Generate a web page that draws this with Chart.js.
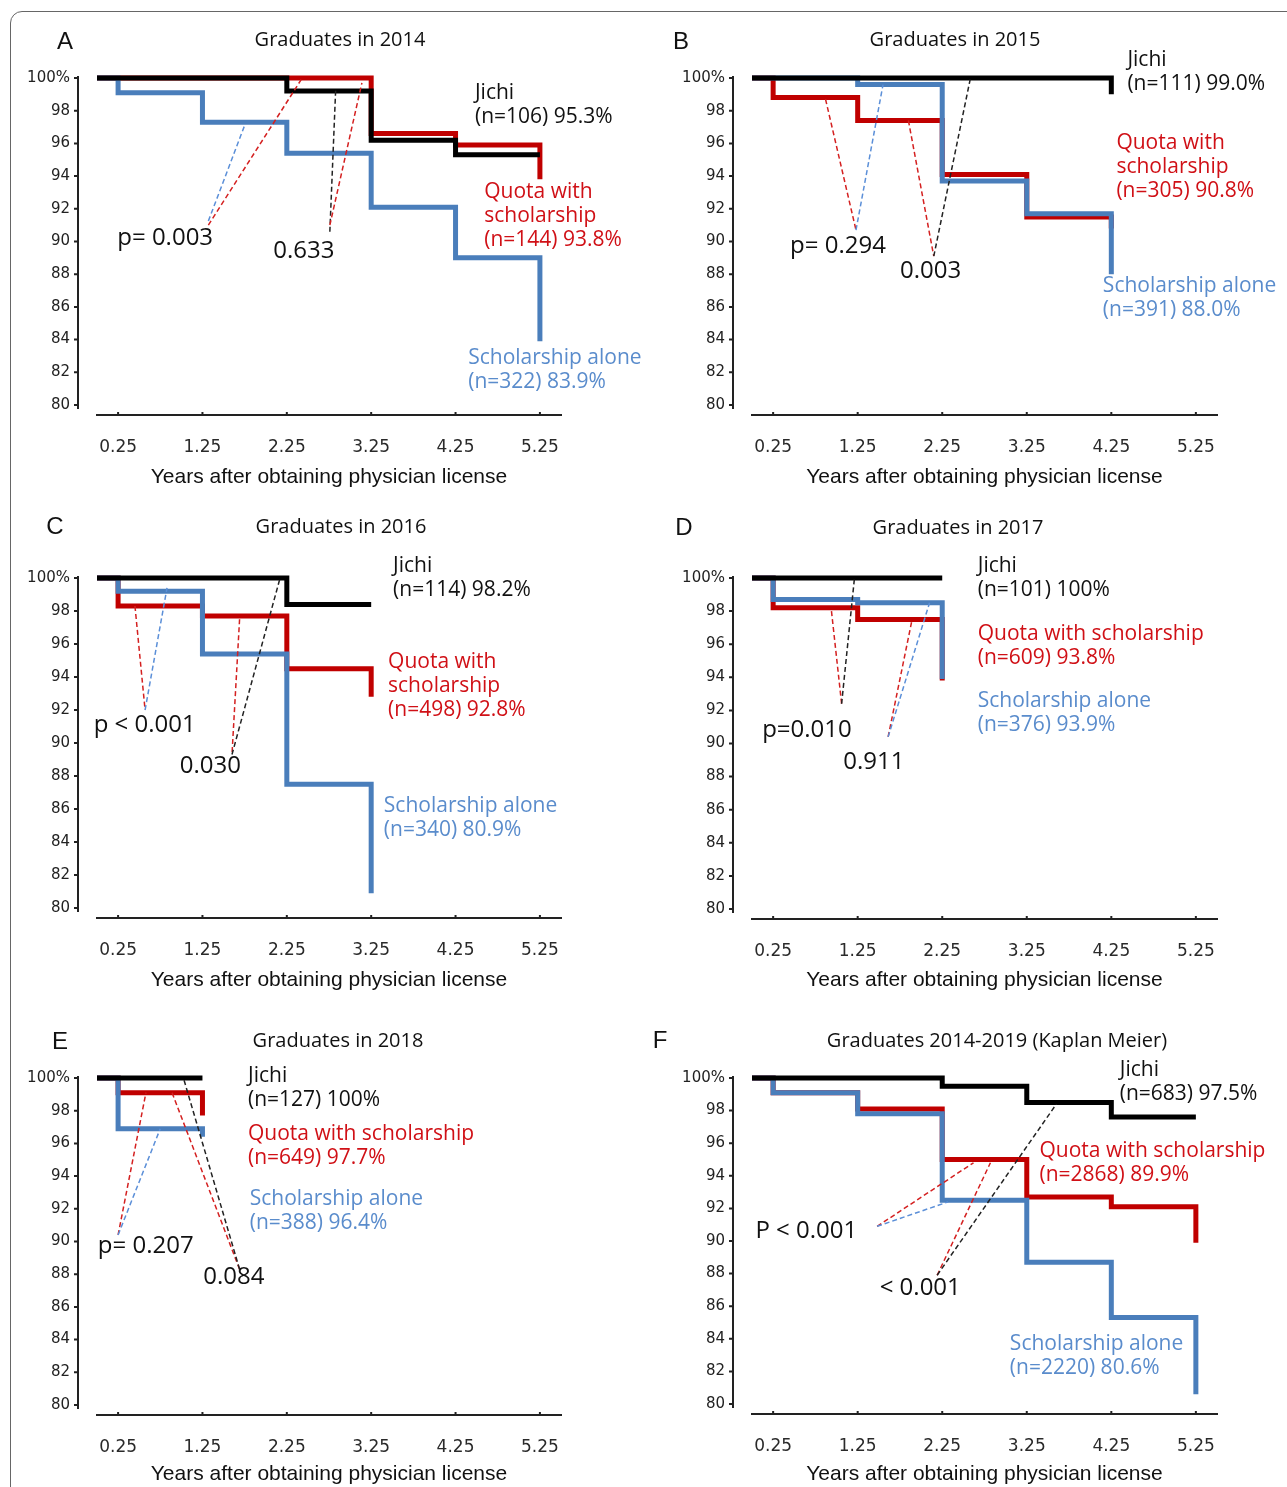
<!DOCTYPE html>
<html>
<head>
<meta charset="utf-8">
<script src="https://cdn.jsdelivr.net/npm/chart.js@4.4.1/dist/chart.umd.min.js"></script>
<style>
  html, body { margin: 0; padding: 0; background: #fff; }
  body { width: 1287px; height: 1487px; position: relative; overflow: hidden; }
  .frame { position: absolute; left: 10px; top: 11px; width: 1320px; height: 1520px;
           border: 1.5px solid #666; border-radius: 12px; box-sizing: border-box; }
  canvas { position: absolute; }
</style>
</head>
<body>
<div class="frame"></div>
<canvas id="pA"></canvas>
<canvas id="pB"></canvas>
<canvas id="pC"></canvas>
<canvas id="pD"></canvas>
<canvas id="pE"></canvas>
<canvas id="pF"></canvas>
<script>
// ---------- data ----------
const X_TICKS = [0.25, 1.25, 2.25, 3.25, 4.25, 5.25];
const Y_TICKS = [80, 82, 84, 86, 88, 90, 92, 94, 96, 98, 100];
const X_TITLE = "Years after obtaining physician license";

// [years, % remaining] at each step
const jichi2014 = [[0, 100], [2.25, 99.2], [3.25, 96.2], [4.25, 95.3], [5.25, 95.3]];
const quota2014 = [[0, 100], [3.25, 96.6], [4.25, 95.9], [5.25, 93.8]];
const schol2014 = [[0, 100], [0.25, 99.1], [1.25, 97.3], [2.25, 95.4], [3.25, 92.1], [4.25, 89.0], [5.25, 83.9]];

const jichi2015 = [[0, 100], [4.25, 99.0]];
const quota2015 = [[0, 100], [0.25, 98.8], [1.25, 97.4], [2.25, 94.1], [3.25, 91.5], [4.25, 90.8]];
const schol2015 = [[0, 100], [1.25, 99.6], [2.25, 93.7], [3.25, 91.7], [4.25, 88.0]];

const jichi2016 = [[0, 100], [2.25, 98.4], [3.25, 98.4]];
const quota2016 = [[0, 100], [0.25, 98.3], [1.25, 97.7], [2.25, 94.5], [3.25, 92.8]];
const schol2016 = [[0, 100], [0.25, 99.2], [1.25, 95.4], [2.25, 87.5], [3.25, 80.9]];

const jichi2017 = [[0, 100], [2.25, 100]];
const quota2017 = [[0, 100], [0.25, 98.2], [1.25, 97.5], [2.25, 93.8]];
const schol2017 = [[0, 100], [0.25, 98.7], [1.25, 98.5], [2.25, 93.9]];

const jichi2018 = [[0, 100], [1.25, 100]];
const quota2018 = [[0, 100], [0.25, 99.1], [1.25, 97.7]];
const schol2018 = [[0, 100], [0.25, 96.9], [1.25, 96.4]];

const jichiAll = [[0, 100], [2.25, 99.5], [3.25, 98.5], [4.25, 97.6], [5.25, 97.6]];
const quotaAll = [[0, 100], [0.25, 99.1], [1.25, 98.1], [2.25, 95.0], [3.25, 92.7], [4.25, 92.1], [5.25, 89.9]];
const scholAll = [[0, 100], [0.25, 99.1], [1.25, 97.8], [2.25, 92.5], [3.25, 88.7], [4.25, 85.3], [5.25, 80.6]];

// ---------- styles ----------
const LINE = { jichi: "#000000", quota: "#c00000", schol: "#4a7ebb" };
const TEXT = { k: "#111111", r: "#d01016", b: "#5a8ccc" };
const DASH = { k: "#222222", r: "#d42020", b: "#5b8fd8" };

// panel layout: canvas position, plot box and annotations (x = years, y = %)
const panels = [
  { id: "pA", left: 0, top: 0, w: 643, h: 500, plotLeft: 97, padRight: 82, bottom: 405, titlePad: 10,
    letter: "A", lx: 65, ly: 42, title: "Graduates in 2014", tx: 340, ty: 40,
    series: [jichi2014, quota2014, schol2014],
    notes: [
      { x: 4.48, y: 99.1, c: "k", lines: ["Jichi", "(n=106) 95.3%"] },
      { x: 4.59, y: 93.0, c: "r", lines: ["Quota with", "scholarship", "(n=144) 93.8%"] },
      { x: 4.40, y: 82.9, c: "b", lines: ["Scholarship alone", "(n=322) 83.9%"] },
      { x: 0.24, y: 90.2, c: "k", big: true, lines: ["p= 0.003"] },
      { x: 2.09, y: 89.4, c: "k", big: true, lines: ["0.633"] }
    ],
    links: [["b", 1.32, 91.25, 1.75, 97.1], ["r", 1.32, 91.0, 2.42, 99.9],
            ["k", 2.76, 90.6, 2.83, 99.4], ["r", 2.76, 91.0, 3.14, 99.7]] },
  { id: "pB", left: 643, top: 0, w: 644, h: 500, plotLeft: 109, padRight: 70, bottom: 405, titlePad: 10,
    letter: "B", lx: 38, ly: 42, title: "Graduates in 2015", tx: 312, ty: 40,
    series: [jichi2015, quota2015, schol2015],
    notes: [
      { x: 4.44, y: 101.1, c: "k", lines: ["Jichi", "(n=111) 99.0%"] },
      { x: 4.31, y: 96.0, c: "r", lines: ["Quota with", "scholarship", "(n=305) 90.8%"] },
      { x: 4.15, y: 87.3, c: "b", lines: ["Scholarship alone", "(n=391) 88.0%"] },
      { x: 0.45, y: 89.7, c: "k", big: true, lines: ["p= 0.294"] },
      { x: 1.75, y: 88.2, c: "k", big: true, lines: ["0.003"] }
    ],
    links: [["r", 0.87, 98.7, 1.23, 90.7], ["b", 1.23, 90.7, 1.55, 99.6],
            ["r", 1.85, 97.4, 2.15, 89.1], ["k", 2.15, 89.1, 2.58, 99.9]] },
  { id: "pC", left: 0, top: 500, w: 643, h: 500, plotLeft: 97, padRight: 82, bottom: 408, titlePad: 7,
    letter: "C", lx: 55, ly: 27, title: "Graduates in 2016", tx: 341, ty: 27,
    series: [jichi2016, quota2016, schol2016],
    notes: [
      { x: 3.51, y: 100.75, c: "k", lines: ["Jichi", "(n=114) 98.2%"] },
      { x: 3.45, y: 94.9, c: "r", lines: ["Quota with", "scholarship", "(n=498) 92.8%"] },
      { x: 3.40, y: 86.2, c: "b", lines: ["Scholarship alone", "(n=340) 80.9%"] },
      { x: -0.04, y: 91.1, c: "k", big: true, lines: ["p < 0.001"] },
      { x: 0.98, y: 88.6, c: "k", big: true, lines: ["0.030"] }
    ],
    links: [["r", 0.45, 98.3, 0.57, 92.0], ["b", 0.57, 92.0, 0.83, 99.4],
            ["r", 1.69, 97.5, 1.60, 89.3], ["k", 1.60, 89.3, 2.17, 100.0]] },
  { id: "pD", left: 643, top: 500, w: 644, h: 500, plotLeft: 109, padRight: 70, bottom: 409, titlePad: 7,
    letter: "D", lx: 41, ly: 28, title: "Graduates in 2017", tx: 315, ty: 28,
    series: [jichi2017, quota2017, schol2017],
    notes: [
      { x: 2.67, y: 100.7, c: "k", lines: ["Jichi", "(n=101) 100%"] },
      { x: 2.67, y: 96.6, c: "r", lines: ["Quota with scholarship", "(n=609) 93.8%"] },
      { x: 2.67, y: 92.55, c: "b", lines: ["Scholarship alone", "(n=376) 93.9%"] },
      { x: 0.12, y: 90.8, c: "k", big: true, lines: ["p=0.010"] },
      { x: 1.08, y: 88.85, c: "k", big: true, lines: ["0.911"] }
    ],
    links: [["r", 0.94, 98.0, 1.06, 92.4], ["k", 1.06, 92.4, 1.21, 99.9],
            ["r", 1.61, 90.4, 1.89, 97.4], ["b", 1.61, 90.4, 2.10, 98.5]] },
  { id: "pE", left: 0, top: 1000, w: 643, h: 487, plotLeft: 97, padRight: 82, bottom: 405, titlePad: 0,
    letter: "E", lx: 60, ly: 42, title: "Graduates in 2018", tx: 338, ty: 41,
    series: [jichi2018, quota2018, schol2018],
    notes: [
      { x: 1.79, y: 100.1, c: "k", lines: ["Jichi", "(n=127) 100%"] },
      { x: 1.79, y: 96.6, c: "r", lines: ["Quota with scholarship", "(n=649) 97.7%"] },
      { x: 1.81, y: 92.6, c: "b", lines: ["Scholarship alone", "(n=388) 96.4%"] },
      { x: 0.01, y: 89.7, c: "k", big: true, lines: ["p= 0.207"] },
      { x: 1.26, y: 87.8, c: "k", big: true, lines: ["0.084"] }
    ],
    links: [["r", 0.25, 90.4, 0.58, 99.1], ["b", 0.25, 90.4, 0.75, 96.9],
            ["r", 1.69, 88.3, 0.89, 99.1], ["k", 1.69, 88.3, 1.03, 99.9]] },
  { id: "pF", left: 643, top: 1000, w: 644, h: 487, plotLeft: 109, padRight: 70, bottom: 404, titlePad: 0,
    letter: "F", lx: 17, ly: 41, title: "Graduates 2014-2019 (Kaplan Meier)", tx: 354, ty: 41,
    series: [jichiAll, quotaAll, scholAll],
    notes: [
      { x: 4.35, y: 100.5, c: "k", lines: ["Jichi", "(n=683) 97.5%"] },
      { x: 3.40, y: 95.5, c: "r", lines: ["Quota with scholarship", "(n=2868) 89.9%"] },
      { x: 3.05, y: 83.7, c: "b", lines: ["Scholarship alone", "(n=2220) 80.6%"] },
      { x: 0.04, y: 90.6, c: "k", big: true, lines: ["P < 0.001"] },
      { x: 1.51, y: 87.1, c: "k", big: true, lines: ["< 0.001"] }
    ],
    links: [["r", 1.48, 90.9, 2.62, 94.8], ["b", 1.48, 90.9, 2.32, 92.4],
            ["r", 2.19, 87.9, 2.82, 94.8], ["k", 2.19, 87.9, 3.60, 98.4]] }
];

// axes lines, p-value connectors, labels, titles
function makeDecor(p) {
  return {
    id: "decor",
    afterDraw(chart) {
      const { ctx, chartArea: a, scales: { x, y } } = chart;
      ctx.save();
      ctx.strokeStyle = "#222";
      ctx.lineWidth = 2;

      // detached y axis
      const ax = a.left - 19;
      ctx.beginPath();
      ctx.moveTo(ax, y.getPixelForValue(100) - 2);
      ctx.lineTo(ax, y.getPixelForValue(80) + 4);
      y.ticks.forEach(t => {
        const py = y.getPixelForValue(t.value);
        ctx.moveTo(ax - 4, py);
        ctx.lineTo(ax, py);
      });
      ctx.stroke();

      // detached x axis
      const ay = a.bottom + 10;
      ctx.beginPath();
      ctx.moveTo(x.getPixelForValue(0) - 1, ay);
      ctx.lineTo(x.getPixelForValue(5.5) + 1, ay);
      x.ticks.forEach(t => {
        const px = x.getPixelForValue(t.value);
        ctx.moveTo(px, ay - 3);
        ctx.lineTo(px, ay);
      });
      ctx.stroke();

      // dashed connectors
      ctx.lineWidth = 1.5;
      ctx.setLineDash([5, 3]);
      p.links.forEach(([c, x1, y1, x2, y2]) => {
        ctx.strokeStyle = DASH[c];
        ctx.beginPath();
        ctx.moveTo(x.getPixelForValue(x1), y.getPixelForValue(y1));
        ctx.lineTo(x.getPixelForValue(x2), y.getPixelForValue(y2));
        ctx.stroke();
      });
      ctx.setLineDash([]);

      // annotations
      ctx.textBaseline = "middle";
      ctx.textAlign = "left";
      p.notes.forEach(n => {
        ctx.fillStyle = TEXT[n.c];
        ctx.font = n.big ? "24px 'Open Sans'" : "21px 'Open Sans'";
        const px = x.getPixelForValue(n.x);
        const py = y.getPixelForValue(n.y);
        n.lines.forEach((s, i) => ctx.fillText(s, px, py + i * 24));
      });

      // panel letter and title
      ctx.fillStyle = "#111";
      ctx.textAlign = "center";
      ctx.font = "24px 'Liberation Sans'";
      ctx.fillText(p.letter, p.lx, p.ly);
      ctx.font = "20px 'Open Sans'";
      ctx.fillText(p.title, p.tx, p.ty);
      ctx.restore();
    }
  };
}

function drawPanel(p) {
  const canvas = document.getElementById(p.id);
  canvas.width = p.w;
  canvas.height = p.h;
  canvas.style.left = p.left + "px";
  canvas.style.top = p.top + "px";

  const [jichi, quota, schol] = p.series;
  const toPts = arr => arr.map(([t, s]) => ({ x: t, y: s }));
  const line = (label, pts, color, order) => ({
    label, data: toPts(pts), borderColor: color, borderWidth: 5,
    pointRadius: 0, stepped: "before", fill: false, clip: false,
    borderCapStyle: "butt", borderJoinStyle: "miter", order
  });

  new Chart(canvas.getContext("2d"), {
    type: "line",
    data: {
      datasets: [
        line("Jichi", jichi, LINE.jichi, 1),
        line("Scholarship alone", schol, LINE.schol, 2),
        line("Quota with scholarship", quota, LINE.quota, 3)
      ]
    },
    options: {
      responsive: false,
      animation: false,
      devicePixelRatio: 1,
      layout: { padding: { top: 78, right: p.padRight, bottom: 0, left: 0 } },
      plugins: { legend: { display: false }, tooltip: { enabled: false } },
      scales: {
        x: {
          type: "linear", min: 0, max: 5.5,
          grid: { display: false, drawTicks: false },
          border: { display: false },
          afterBuildTicks: s => { s.ticks = X_TICKS.map(v => ({ value: v })); },
          afterFit: s => { s.height = p.h - p.bottom; },
          ticks: {
            padding: 32, color: "#2a2a2a", autoSkip: false, maxRotation: 0,
            font: { family: "DejaVu Sans", size: 17 },
            callback: v => Number(v).toFixed(2)
          },
          title: {
            display: true, text: X_TITLE, color: "#111",
            font: { family: "Liberation Sans", size: 21 },
            padding: { top: 0, bottom: p.titlePad }
          }
        },
        y: {
          type: "linear", min: 80, max: 100,
          grid: { display: false, drawTicks: false },
          border: { display: false },
          afterBuildTicks: s => { s.ticks = Y_TICKS.map(v => ({ value: v })); },
          afterFit: s => { s.width = p.plotLeft; },
          ticks: {
            padding: 27, color: "#222",
            font: { family: "DejaVu Sans", size: 15 },
            callback: v => (v === 100 ? "100%" : String(v))
          }
        }
      }
    },
    plugins: [makeDecor(p)]
  });
}

panels.forEach(drawPanel);
</script>
</body>
</html>
